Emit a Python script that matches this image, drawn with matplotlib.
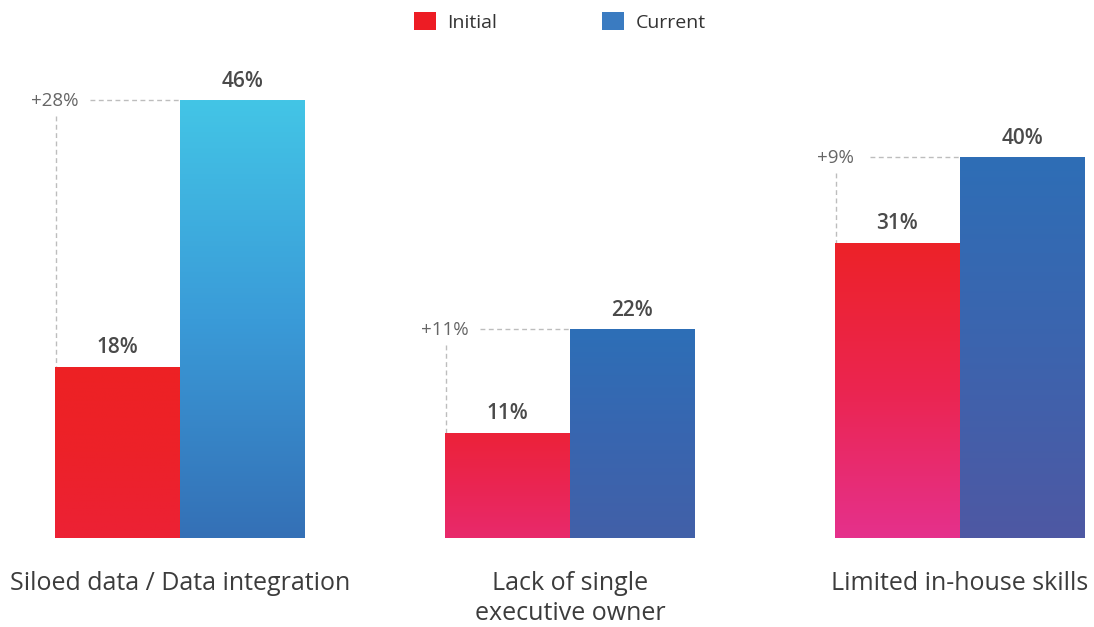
import matplotlib
matplotlib.use("Agg")
import matplotlib.pyplot as plt
import numpy as np
from matplotlib.colors import to_rgb
from matplotlib.patches import Patch

categories = ["Siloed data / Data integration", "Lack of single\nexecutive owner", "Limited in-house skills"]
initial = [18, 11, 31]
current = [46, 22, 40]
series_names = ["Initial", "Current"]

# styles
red_grad = [["#ED2224", "#ED2129", "#EC2135"],
            ["#EC2239", "#EA2552", "#E82A6C"],
            ["#ED2228", "#EB2550", "#E5318C"]]
blue_grad = [["#43C5E6", "#3A9BD8", "#3470B6"],
             ["#2D6FB7", "#3866B0", "#4260A8"],
             ["#2E6EB6", "#3C64AE", "#4E58A3"]]
legend_colors = ["#ED1C24", "#3A7BC1"]

plt.rcParams['font.family'] = ['Open Sans', 'DejaVu Sans']

fig = plt.figure(figsize=(10.94, 6.27), dpi=100)
ax = fig.add_axes([0, 0, 1, 1])
ax.set_axis_off()

x = np.arange(len(categories))
w = 125 / 390

bars_i = ax.bar(x - w / 2, initial, w, color='none', edgecolor='none')
bars_c = ax.bar(x + w / 2, current, w, color='none', edgecolor='none')


def grad_fill(patch, stops):
    cols = np.array([to_rgb(c) for c in stops])
    n = 256
    t = np.linspace(0, 1, n)
    pos = np.linspace(0, 1, len(cols))
    arr = np.stack([np.interp(t, pos, cols[:, k]) for k in range(3)], axis=-1)
    arr = arr[:, None, :]
    x0, y0 = patch.get_x(), patch.get_y()
    x1, y1 = x0 + patch.get_width(), y0 + patch.get_height()
    im = ax.imshow(arr, extent=(x0, x1, y0, y1), aspect='auto',
                   interpolation='bilinear', origin='upper', zorder=2)
    im.set_clip_path(patch)


for i in range(len(categories)):
    grad_fill(bars_i[i], red_grad[i])
    grad_fill(bars_c[i], blue_grad[i])

label_color = "#4A4A4A"
dash_color = "#BDBDBD"
px_x = 1 / 390  # data units per pixel (x)
px_y = 1 / 9.52

for i in range(len(categories)):
    xl = x[i] - w
    xc = x[i]
    # value labels
    ax.text(x[i] - w / 2, initial[i] + 9 * px_y, f"{initial[i]}%", ha='center', va='bottom',
            fontsize=15, fontweight='semibold', color=label_color, zorder=5)
    ax.text(x[i] + w / 2, current[i] + 8 * px_y, f"{current[i]}%", ha='center', va='bottom',
            fontsize=15, fontweight='semibold', color=label_color, zorder=5)
    # difference label
    diff = current[i] - initial[i]
    ax.text(xl, current[i] - 1 * px_y, f"+{diff}%", ha='center', va='center',
            fontsize=13.5, color="#666666", zorder=5)
    ax.plot([xl + 35 * px_x, xc], [current[i], current[i]], color=dash_color, lw=1.0,
            dashes=(3.5, 2.5), zorder=1)
    ax.plot([xl + 1 * px_x, xl + 1 * px_x], [current[i] - 16 * px_y, initial[i]], color=dash_color,
            lw=1.0, dashes=(3.5, 2.5), zorder=1)
    # category label
    ax.text(x[i], -33 * px_y, categories[i], ha='center', va='top', fontsize=18,
            color="#3C3C3C", linespacing=1.25)

ax.set_xlim(-180 / 390, (1094 - 180) / 390)
ax.set_ylim(-89 / 9.52, 538 / 9.52)

handles = [Patch(facecolor=c, edgecolor='none') for c in legend_colors]
fig.legend(handles, series_names, loc='upper center', bbox_to_anchor=(560 / 1094, 1 - 2 / 627),
           ncol=2, frameon=False, fontsize=14, handlelength=1.1, handleheight=1.1,
           handletextpad=0.6, columnspacing=5.4, borderpad=0, labelcolor="#333333")

fig.savefig("out.png", dpi=100)
